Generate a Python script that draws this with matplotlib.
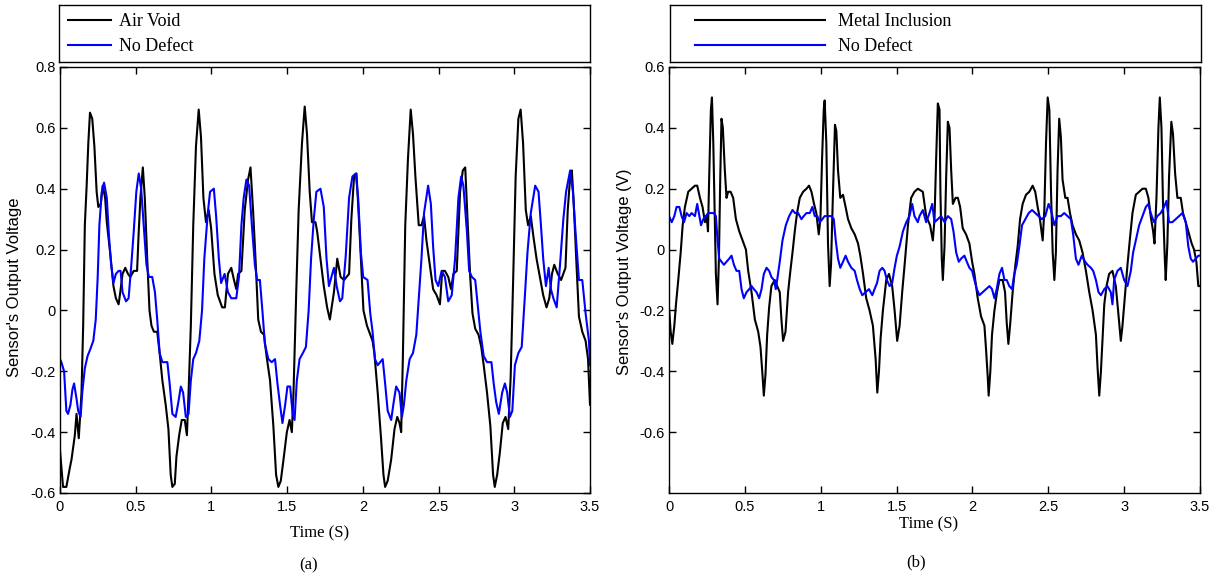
import numpy as np
import matplotlib
matplotlib.use('Agg')
import matplotlib.pyplot as plt

plt.rcParams['font.family'] = 'Liberation Sans'
SERIF = 'Liberation Serif'

# --- datos: (tiempo [s], voltaje [V]) ---
air_void = [
    (0.000, -0.46), (0.020, -0.58), (0.042, -0.58), (0.064, -0.52), (0.076, -0.49), (0.098, -0.41),
    (0.109, -0.34), (0.124, -0.42), (0.142, -0.27), (0.153, -0.05), (0.164, 0.28), (0.176, 0.41),
    (0.187, 0.55), (0.198, 0.65), (0.213, 0.63), (0.227, 0.54), (0.242, 0.39), (0.253, 0.34),
    (0.269, 0.35), (0.282, 0.41), (0.298, 0.37), (0.309, 0.29), (0.331, 0.19), (0.353, 0.08),
    (0.369, 0.04), (0.387, 0.02), (0.398, 0.06), (0.413, 0.12), (0.431, 0.14), (0.449, 0.12),
    (0.464, 0.11), (0.487, 0.13), (0.509, 0.13), (0.520, 0.26), (0.531, 0.37), (0.547, 0.47),
    (0.560, 0.37), (0.576, 0.17), (0.591, 0.00), (0.604, -0.05), (0.620, -0.07), (0.642, -0.07),
    (0.658, -0.14), (0.676, -0.23), (0.698, -0.31), (0.716, -0.39), (0.731, -0.54), (0.742, -0.58),
    (0.758, -0.57), (0.769, -0.48), (0.787, -0.41), (0.804, -0.36), (0.824, -0.36), (0.838, -0.41),
    (0.849, -0.27), (0.864, -0.05), (0.880, 0.28), (0.898, 0.54), (0.916, 0.66), (0.931, 0.57),
    (0.947, 0.37), (0.964, 0.29), (0.982, 0.33), (0.998, 0.27), (1.020, 0.12), (1.042, 0.05),
    (1.071, 0.01), (1.089, 0.01), (1.109, 0.12), (1.131, 0.14), (1.149, 0.10), (1.164, 0.07),
    (1.176, 0.12), (1.198, 0.13), (1.220, 0.33), (1.242, 0.43), (1.258, 0.47), (1.276, 0.32),
    (1.293, 0.15), (1.309, -0.03), (1.327, -0.07), (1.347, -0.08), (1.364, -0.15), (1.387, -0.23),
    (1.409, -0.38), (1.427, -0.54), (1.442, -0.58), (1.458, -0.56), (1.476, -0.49), (1.498, -0.40),
    (1.516, -0.36), (1.531, -0.40), (1.542, -0.27), (1.560, 0.06), (1.576, 0.33), (1.598, 0.55),
    (1.616, 0.67), (1.631, 0.58), (1.649, 0.39), (1.664, 0.29), (1.687, 0.29), (1.698, 0.26),
    (1.720, 0.17), (1.742, 0.08), (1.764, 0.01), (1.782, -0.03), (1.809, 0.06), (1.831, 0.17),
    (1.853, 0.11), (1.876, 0.10), (1.909, 0.12), (1.924, 0.30), (1.942, 0.44), (1.958, 0.45),
    (1.976, 0.28), (1.991, 0.13), (2.004, 0.00), (2.027, -0.05), (2.049, -0.08), (2.064, -0.10),
    (2.076, -0.14), (2.098, -0.27), (2.120, -0.42), (2.136, -0.54), (2.147, -0.58), (2.164, -0.56),
    (2.187, -0.49), (2.209, -0.39), (2.227, -0.35), (2.242, -0.37), (2.253, -0.40), (2.264, -0.16),
    (2.280, 0.28), (2.298, 0.50), (2.316, 0.66), (2.331, 0.58), (2.347, 0.44), (2.369, 0.28),
    (2.387, 0.28), (2.404, 0.31), (2.420, 0.23), (2.442, 0.15), (2.464, 0.07), (2.487, 0.05),
    (2.509, 0.02), (2.524, 0.13), (2.542, 0.13), (2.564, 0.11), (2.582, 0.07), (2.598, 0.12),
    (2.620, 0.13), (2.642, 0.39), (2.660, 0.46), (2.676, 0.47), (2.693, 0.28), (2.709, 0.11),
    (2.724, -0.01), (2.742, -0.06), (2.764, -0.08), (2.782, -0.12), (2.798, -0.18), (2.820, -0.27),
    (2.842, -0.38), (2.860, -0.54), (2.871, -0.58), (2.887, -0.54), (2.904, -0.47), (2.924, -0.37),
    (2.942, -0.35), (2.960, -0.39), (2.976, -0.22), (2.993, 0.11), (3.009, 0.44), (3.027, 0.63),
    (3.042, 0.66), (3.058, 0.55), (3.076, 0.33), (3.091, 0.28), (3.109, 0.31), (3.127, 0.24),
    (3.147, 0.17), (3.169, 0.11), (3.191, 0.05), (3.213, 0.01), (3.231, 0.04), (3.249, 0.12),
    (3.264, 0.15), (3.287, 0.12), (3.309, 0.10), (3.338, 0.14), (3.353, 0.33), (3.369, 0.44),
    (3.380, 0.46), (3.391, 0.37), (3.409, 0.17), (3.427, -0.02), (3.449, -0.07), (3.471, -0.10),
    (3.487, -0.16), (3.494, -0.24), (3.500, -0.31),
]

no_defect_a = [
    (0.000, -0.16), (0.009, -0.17), (0.027, -0.20), (0.042, -0.33), (0.053, -0.34), (0.069, -0.31),
    (0.082, -0.26), (0.093, -0.24), (0.109, -0.29), (0.120, -0.33), (0.136, -0.35), (0.147, -0.27),
    (0.164, -0.19), (0.182, -0.15), (0.198, -0.13), (0.220, -0.10), (0.236, -0.03), (0.249, 0.11),
    (0.260, 0.28), (0.276, 0.39), (0.291, 0.42), (0.309, 0.37), (0.324, 0.24), (0.338, 0.15),
    (0.353, 0.09), (0.369, 0.12), (0.387, 0.13), (0.400, 0.13), (0.413, 0.06), (0.436, 0.03),
    (0.453, 0.04), (0.471, 0.15), (0.487, 0.26), (0.504, 0.39), (0.520, 0.45), (0.536, 0.40),
    (0.553, 0.28), (0.571, 0.15), (0.587, 0.11), (0.609, 0.11), (0.627, 0.06), (0.642, -0.03),
    (0.658, -0.14), (0.676, -0.17), (0.709, -0.17), (0.724, -0.24), (0.742, -0.34), (0.764, -0.35),
    (0.782, -0.30), (0.798, -0.25), (0.813, -0.27), (0.831, -0.35), (0.849, -0.34), (0.864, -0.23),
    (0.880, -0.16), (0.898, -0.14), (0.920, -0.10), (0.938, 0.00), (0.953, 0.17), (0.976, 0.32),
    (0.991, 0.39), (1.016, 0.40), (1.031, 0.31), (1.049, 0.17), (1.064, 0.09), (1.087, 0.12),
    (1.109, 0.06), (1.131, 0.04), (1.164, 0.04), (1.182, 0.11), (1.198, 0.28), (1.213, 0.37),
    (1.231, 0.43), (1.249, 0.41), (1.267, 0.28), (1.287, 0.15), (1.302, 0.10), (1.320, 0.10),
    (1.338, -0.01), (1.353, -0.11), (1.376, -0.16), (1.398, -0.17), (1.420, -0.16), (1.436, -0.24),
    (1.453, -0.31), (1.469, -0.37), (1.487, -0.31), (1.502, -0.25), (1.520, -0.25), (1.536, -0.34),
    (1.549, -0.36), (1.564, -0.23), (1.582, -0.16), (1.604, -0.14), (1.624, -0.12), (1.642, 0.00),
    (1.658, 0.17), (1.676, 0.30), (1.693, 0.39), (1.720, 0.40), (1.742, 0.34), (1.760, 0.17),
    (1.776, 0.08), (1.787, 0.10), (1.809, 0.14), (1.827, 0.08), (1.849, 0.03), (1.864, 0.04),
    (1.887, 0.18), (1.909, 0.37), (1.931, 0.44), (1.953, 0.45), (1.969, 0.37), (1.987, 0.19),
    (2.002, 0.11), (2.031, 0.10), (2.049, -0.01), (2.064, -0.07), (2.080, -0.16), (2.098, -0.18),
    (2.131, -0.16), (2.147, -0.24), (2.164, -0.33), (2.187, -0.36), (2.204, -0.30), (2.220, -0.25),
    (2.242, -0.27), (2.258, -0.35), (2.271, -0.31), (2.287, -0.23), (2.309, -0.16), (2.331, -0.14),
    (2.353, -0.08), (2.369, 0.04), (2.387, 0.17), (2.404, 0.32), (2.431, 0.41), (2.449, 0.35),
    (2.464, 0.21), (2.480, 0.10), (2.498, 0.08), (2.520, 0.13), (2.542, 0.11), (2.564, 0.03),
    (2.587, 0.05), (2.609, 0.17), (2.631, 0.37), (2.649, 0.44), (2.664, 0.41), (2.687, 0.26),
    (2.702, 0.13), (2.720, 0.11), (2.742, 0.10), (2.760, 0.01), (2.776, -0.07), (2.798, -0.15),
    (2.820, -0.17), (2.849, -0.17), (2.864, -0.24), (2.880, -0.30), (2.898, -0.34), (2.920, -0.27),
    (2.938, -0.24), (2.953, -0.27), (2.971, -0.35), (2.987, -0.33), (3.004, -0.18), (3.027, -0.14),
    (3.049, -0.12), (3.069, 0.04), (3.087, 0.19), (3.109, 0.32), (3.138, 0.41), (3.160, 0.39),
    (3.176, 0.28), (3.191, 0.17), (3.209, 0.08), (3.227, 0.14), (3.242, 0.07), (3.258, 0.04),
    (3.280, 0.01), (3.302, 0.15), (3.324, 0.30), (3.342, 0.39), (3.369, 0.46), (3.387, 0.39),
    (3.404, 0.26), (3.427, 0.10), (3.449, 0.10), (3.471, -0.01), (3.493, -0.10), (3.500, -0.18),
]

metal_inclusion = [
    (0.000, -0.19), (0.011, -0.27), (0.022, -0.31), (0.035, -0.25), (0.046, -0.18), (0.061, -0.10),
    (0.077, -0.01), (0.090, 0.08), (0.105, 0.14), (0.127, 0.19), (0.149, 0.20), (0.171, 0.21),
    (0.186, 0.21), (0.204, 0.17), (0.221, 0.14), (0.237, 0.09), (0.248, 0.11), (0.257, 0.06),
    (0.265, 0.24), (0.276, 0.46), (0.283, 0.50), (0.292, 0.35), (0.303, 0.08), (0.309, -0.08),
    (0.320, -0.18), (0.329, -0.03), (0.338, 0.24), (0.346, 0.43), (0.355, 0.40), (0.368, 0.26),
    (0.379, 0.17), (0.390, 0.19), (0.406, 0.19), (0.423, 0.17), (0.441, 0.10), (0.463, 0.06),
    (0.485, 0.03), (0.507, 0.00), (0.522, -0.07), (0.544, -0.14), (0.566, -0.23), (0.588, -0.27),
    (0.603, -0.32), (0.616, -0.41), (0.625, -0.48), (0.636, -0.41), (0.647, -0.28), (0.660, -0.19),
    (0.675, -0.12), (0.697, -0.10), (0.713, -0.12), (0.730, -0.14), (0.741, -0.23), (0.752, -0.30),
    (0.768, -0.27), (0.785, -0.14), (0.800, -0.07), (0.814, -0.01), (0.829, 0.06), (0.844, 0.12),
    (0.862, 0.17), (0.884, 0.19), (0.906, 0.20), (0.923, 0.21), (0.939, 0.19), (0.956, 0.15),
    (0.971, 0.12), (0.987, 0.05), (0.998, 0.10), (1.009, 0.30), (1.020, 0.46), (1.026, 0.49),
    (1.037, 0.35), (1.048, 0.02), (1.059, -0.12), (1.068, -0.05), (1.081, 0.19), (1.094, 0.41),
    (1.103, 0.39), (1.114, 0.26), (1.129, 0.17), (1.147, 0.18), (1.164, 0.14), (1.180, 0.10),
    (1.202, 0.07), (1.224, 0.05), (1.246, 0.02), (1.261, -0.02), (1.279, -0.08), (1.300, -0.16),
    (1.322, -0.20), (1.344, -0.25), (1.362, -0.36), (1.373, -0.47), (1.384, -0.40), (1.395, -0.29),
    (1.410, -0.20), (1.432, -0.10), (1.450, -0.08), (1.471, -0.12), (1.487, -0.20), (1.504, -0.30),
    (1.520, -0.25), (1.537, -0.14), (1.553, -0.05), (1.575, 0.08), (1.596, 0.17), (1.618, 0.19),
    (1.640, 0.20), (1.673, 0.19), (1.695, 0.11), (1.721, 0.08), (1.739, 0.03), (1.750, 0.10),
    (1.761, 0.30), (1.772, 0.48), (1.783, 0.46), (1.789, 0.19), (1.798, -0.03), (1.805, -0.10),
    (1.816, 0.01), (1.827, 0.24), (1.838, 0.42), (1.849, 0.40), (1.860, 0.26), (1.871, 0.15),
    (1.889, 0.17), (1.904, 0.17), (1.919, 0.14), (1.936, 0.07), (1.958, 0.05), (1.980, 0.02),
    (1.998, -0.04), (2.013, -0.08), (2.035, -0.16), (2.057, -0.22), (2.079, -0.25), (2.090, -0.33),
    (2.101, -0.42), (2.107, -0.48), (2.118, -0.40), (2.129, -0.28), (2.145, -0.20), (2.162, -0.14),
    (2.178, -0.10), (2.199, -0.10), (2.215, -0.14), (2.226, -0.24), (2.237, -0.31), (2.248, -0.25),
    (2.265, -0.14), (2.283, -0.05), (2.298, 0.01), (2.314, 0.10), (2.331, 0.15), (2.353, 0.18),
    (2.375, 0.19), (2.397, 0.21), (2.414, 0.19), (2.430, 0.14), (2.445, 0.10), (2.463, 0.03),
    (2.474, 0.13), (2.485, 0.35), (2.496, 0.50), (2.507, 0.46), (2.518, 0.19), (2.529, -0.01),
    (2.540, -0.10), (2.550, -0.01), (2.561, 0.26), (2.572, 0.43), (2.583, 0.37), (2.594, 0.23),
    (2.612, 0.17), (2.627, 0.17), (2.643, 0.12), (2.660, 0.08), (2.682, 0.05), (2.704, 0.03),
    (2.726, -0.01), (2.748, -0.07), (2.770, -0.14), (2.792, -0.20), (2.814, -0.28), (2.825, -0.39),
    (2.836, -0.48), (2.847, -0.40), (2.858, -0.29), (2.869, -0.18), (2.884, -0.12), (2.901, -0.08),
    (2.923, -0.07), (2.945, -0.12), (2.960, -0.20), (2.978, -0.30), (2.989, -0.25), (3.007, -0.14),
    (3.022, -0.05), (3.037, 0.03), (3.055, 0.12), (3.077, 0.18), (3.099, 0.19), (3.121, 0.20),
    (3.143, 0.20), (3.160, 0.17), (3.175, 0.11), (3.191, 0.06), (3.200, 0.02), (3.213, 0.17),
    (3.226, 0.40), (3.235, 0.50), (3.246, 0.40), (3.257, 0.13), (3.268, -0.03), (3.274, -0.10),
    (3.285, 0.02), (3.296, 0.24), (3.311, 0.42), (3.322, 0.38), (3.336, 0.25), (3.351, 0.17),
    (3.373, 0.17), (3.388, 0.12), (3.406, 0.09), (3.428, 0.05), (3.445, 0.02), (3.461, 0.00),
    (3.476, -0.04), (3.489, -0.12), (3.500, -0.12),
]

no_defect_b = [
    (0.000, 0.11), (0.018, 0.09), (0.035, 0.11), (0.050, 0.14), (0.068, 0.14), (0.083, 0.11),
    (0.099, 0.09), (0.116, 0.12), (0.134, 0.11), (0.149, 0.12), (0.171, 0.11), (0.186, 0.15),
    (0.200, 0.11), (0.211, 0.08), (0.226, 0.10), (0.243, 0.11), (0.259, 0.12), (0.281, 0.12),
    (0.296, 0.12), (0.309, 0.11), (0.320, 0.03), (0.331, -0.03), (0.346, -0.04), (0.362, -0.05),
    (0.379, -0.04), (0.397, -0.03), (0.412, -0.02), (0.428, -0.05), (0.445, -0.07), (0.463, -0.07),
    (0.478, -0.13), (0.493, -0.16), (0.511, -0.14), (0.529, -0.13), (0.544, -0.12), (0.559, -0.13),
    (0.577, -0.14), (0.594, -0.16), (0.610, -0.13), (0.625, -0.08), (0.643, -0.06), (0.660, -0.07),
    (0.675, -0.09), (0.691, -0.10), (0.704, -0.13), (0.713, -0.10), (0.730, -0.04), (0.748, 0.03),
    (0.770, 0.08), (0.792, 0.11), (0.814, 0.13), (0.831, 0.12), (0.851, 0.12), (0.873, 0.10),
    (0.888, 0.11), (0.906, 0.12), (0.928, 0.12), (0.945, 0.14), (0.961, 0.11), (0.978, 0.11),
    (0.993, 0.09), (1.011, 0.10), (1.026, 0.11), (1.048, 0.11), (1.070, 0.11), (1.086, 0.10),
    (1.099, 0.03), (1.114, -0.03), (1.129, -0.06), (1.147, -0.04), (1.164, -0.02), (1.180, -0.04),
    (1.202, -0.06), (1.224, -0.07), (1.239, -0.10), (1.257, -0.13), (1.274, -0.15), (1.296, -0.14),
    (1.318, -0.13), (1.340, -0.15), (1.355, -0.13), (1.371, -0.11), (1.388, -0.07), (1.406, -0.06),
    (1.421, -0.07), (1.436, -0.10), (1.454, -0.12), (1.471, -0.11), (1.487, -0.06), (1.502, -0.02),
    (1.520, 0.01), (1.542, 0.06), (1.564, 0.09), (1.585, 0.11), (1.603, 0.15), (1.618, 0.11),
    (1.640, 0.09), (1.651, 0.11), (1.673, 0.13), (1.695, 0.09), (1.717, 0.12), (1.735, 0.15),
    (1.750, 0.09), (1.772, 0.10), (1.794, 0.11), (1.816, 0.09), (1.838, 0.11), (1.860, 0.10),
    (1.875, 0.06), (1.893, -0.01), (1.910, -0.04), (1.925, -0.03), (1.947, -0.02), (1.963, -0.04),
    (1.980, -0.06), (1.998, -0.07), (2.013, -0.10), (2.029, -0.13), (2.046, -0.15), (2.068, -0.14),
    (2.090, -0.13), (2.112, -0.12), (2.129, -0.13), (2.145, -0.16), (2.160, -0.13), (2.178, -0.08),
    (2.195, -0.06), (2.211, -0.10), (2.226, -0.10), (2.243, -0.12), (2.261, -0.13), (2.276, -0.08),
    (2.292, -0.05), (2.309, 0.01), (2.327, 0.08), (2.349, 0.10), (2.371, 0.12), (2.393, 0.13),
    (2.414, 0.12), (2.436, 0.11), (2.458, 0.10), (2.480, 0.11), (2.502, 0.15), (2.518, 0.13),
    (2.540, 0.08), (2.561, 0.11), (2.583, 0.11), (2.605, 0.12), (2.627, 0.11), (2.649, 0.10),
    (2.664, 0.05), (2.682, -0.03), (2.699, -0.05), (2.721, -0.02), (2.743, -0.04), (2.759, -0.05),
    (2.781, -0.06), (2.796, -0.07), (2.814, -0.10), (2.831, -0.14), (2.847, -0.15), (2.869, -0.13),
    (2.890, -0.12), (2.912, -0.14), (2.923, -0.18), (2.934, -0.10), (2.956, -0.07), (2.978, -0.06),
    (3.000, -0.10), (3.022, -0.12), (3.044, -0.07), (3.059, -0.01), (3.077, 0.03), (3.099, 0.08),
    (3.121, 0.11), (3.143, 0.14), (3.160, 0.15), (3.175, 0.12), (3.197, 0.09), (3.219, 0.11),
    (3.241, 0.12), (3.263, 0.14), (3.279, 0.16), (3.296, 0.09), (3.318, 0.09), (3.340, 0.10),
    (3.362, 0.11), (3.384, 0.12), (3.406, 0.09), (3.423, 0.01), (3.439, -0.03), (3.454, -0.04),
    (3.472, -0.03), (3.489, -0.02), (3.500, -0.02),
]

x_ticks = [0, 0.5, 1, 1.5, 2, 2.5, 3, 3.5]
x_labels = ['0', '0.5', '1', '1.5', '2', '2.5', '3', '3.5']
y_ticks_a = [-0.6, -0.4, -0.2, 0, 0.2, 0.4, 0.6, 0.8]
y_labels_a = ['-0.6', '-0.4', '-0.2', '0', '0.2', '0.4', '0.6', '0.8']
y_ticks_b = [-0.6, -0.4, -0.2, 0, 0.2, 0.4, 0.6]
y_labels_b = ['-0.6', '-0.4', '-0.2', '0', '0.2', '0.4', '0.6']

W, H = 1222, 579
fig = plt.figure(figsize=(W / 100, H / 100), dpi=100)


def caja(x0, y0, x1, y1):
    # rectangulo en pixeles (origen arriba a la izquierda) -> coords de figura
    return [x0 / W, 1 - y1 / H, (x1 - x0) / W, (y1 - y0) / H]


ax_a = fig.add_axes(caja(60, 67, 590, 493))
ax_b = fig.add_axes(caja(669, 67, 1200, 493))
leg_a = fig.add_axes(caja(59, 5, 590, 62))
leg_b = fig.add_axes(caja(670, 5, 1201, 62))

t, v = np.array(air_void).T
ax_a.plot(t, v, color='black', lw=1.5, label='Air Void')
t, v = np.array(no_defect_a).T
ax_a.plot(t, v, color='#0000ff', lw=1.5, label='No Defect')

t, v = np.array(metal_inclusion).T
ax_b.plot(t, v, color='black', lw=1.5, label='Metal Inclusion')
t, v = np.array(no_defect_b).T
ax_b.plot(t, v, color='#0000ff', lw=1.5, label='No Defect')

ax_a.set_ylim(-0.6, 0.8)
ax_a.set_yticks(y_ticks_a, y_labels_a)
ax_b.set_ylim(-0.8, 0.6)
ax_b.set_yticks(y_ticks_b, y_labels_b)

for ax in (ax_a, ax_b):
    ax.set_xlim(0, 3.5)
    ax.set_xticks(x_ticks, x_labels)
    ax.tick_params(direction='in', top=True, right=True, length=5, width=1,
                   labelsize=10.5, colors='black')
    ax.tick_params(axis='x', pad=5)
    ax.tick_params(axis='y', pad=3)
    for s in ax.spines.values():
        s.set_linewidth(1.0)
        s.set_color('black')

# cajas de leyenda encima de cada grafico
for lg in (leg_a, leg_b):
    lg.set_xticks([])
    lg.set_yticks([])
    for s in lg.spines.values():
        s.set_linewidth(1.0)

leg_a.legend(handles=ax_a.get_lines(), loc='upper left', bbox_to_anchor=(0.017, 0.86),
             frameon=False, prop={'family': SERIF, 'size': 13}, handlelength=2.4,
             handletextpad=0.45, borderpad=0, borderaxespad=0, labelspacing=0.47)
leg_b.legend(handles=ax_b.get_lines(), loc='upper left', bbox_to_anchor=(0.047, 0.86),
             frameon=False, prop={'family': SERIF, 'size': 13}, handlelength=7.2,
             handletextpad=0.7, borderpad=0, borderaxespad=0, labelspacing=0.47)

# etiquetas de ejes
fig.text(15 / W, 1 - 287 / H, "Sensor's Output Voltage", rotation=90,
         ha='center', va='center', fontsize=12)
fig.text(625 / W, 1 - 272 / H, "Sensor's Output Voltage (V)", rotation=90,
         ha='center', va='center', fontsize=12)
fig.text(320 / W, 1 - 533 / H, 'Time (S)', ha='center', va='center',
         family=SERIF, fontsize=12)
fig.text(929 / W, 1 - 524 / H, 'Time (S)', ha='center', va='center',
         family=SERIF, fontsize=12)
fig.text(309 / W, 1 - 565 / H, '(a)', ha='center', va='center', family=SERIF, fontsize=12)
fig.text(916 / W, 1 - 562 / H, '(b)', ha='center', va='center', family=SERIF, fontsize=12)

fig.savefig('out.png', dpi=100)
